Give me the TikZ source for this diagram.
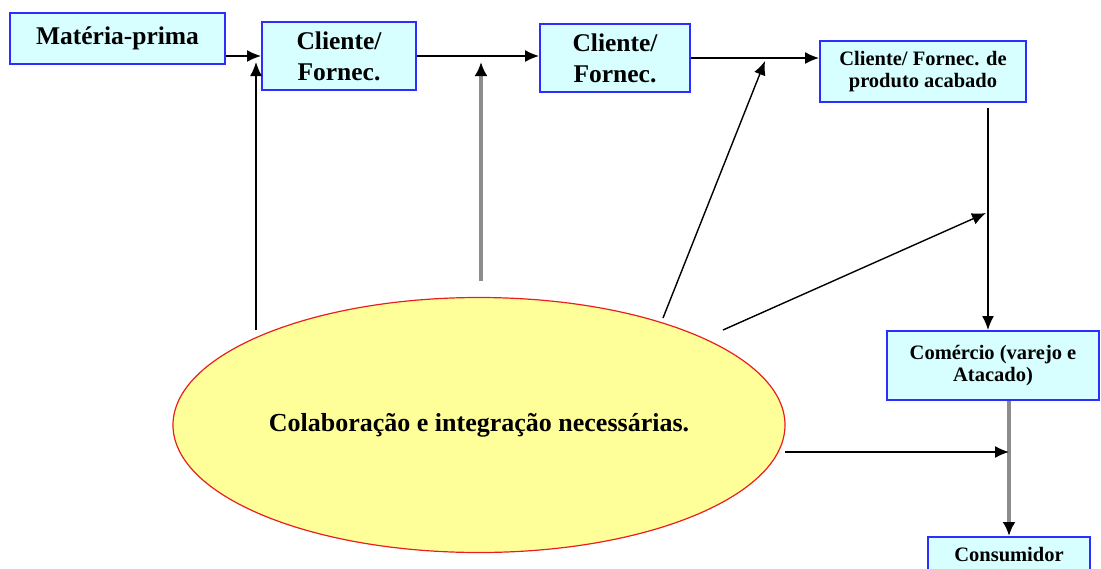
\documentclass[tikz,border=0pt]{standalone}
\usepackage{fontspec}
\setmainfont{Liberation Serif}
\usetikzlibrary{shapes.geometric,arrows.meta,positioning}
\definecolor{boxfill}{RGB}{215,255,255}
\definecolor{boxline}{RGB}{45,45,255}
\definecolor{cloudfill}{RGB}{255,255,153}
\definecolor{cloudline}{RGB}{235,30,30}
\tikzstyle{block} = [rectangle, draw=boxline, line width=2pt, fill=boxfill,
    align=center, inner sep=0pt, font=\fontsize{25.5}{31}\selectfont\bfseries]
\tikzstyle{smallblock} = [block, font=\fontsize{20.5}{22}\selectfont\bfseries]
\tikzstyle{cloud} = [draw=cloudline, ellipse, fill=cloudfill, line width=1.2pt,
    inner sep=0pt, font=\fontsize{26}{30}\selectfont\bfseries]
\tikzstyle{line} = [draw, line width=1.4pt, -{Latex[length=14pt,width=12pt]}]
\tikzstyle{grayline} = [draw=gray!90, line width=4pt, -{Latex[length=14pt,width=13pt,black]}]

\begin{document}
\begin{tikzpicture}[x=1pt, y=-1pt]
    \useasboundingbox (0,0) rectangle (1101,568);
    \clip (0,0) rectangle (1101,568);
    % Nodes
    \node [block, minimum width=215pt, minimum height=51pt] (mp) at (117.5,38.5) {Matéria-prima};
    \node [block, minimum width=154pt, minimum height=68pt] (cf1) at (339,56) {Cliente/\\Fornec.};
    \node [block, minimum width=150pt, minimum height=68pt] (cf2) at (615,58) {Cliente/\\Fornec.};
    \node [smallblock, minimum width=206pt, minimum height=61pt] (cf3) at (923,71.5) {Cliente/ Fornec. de\\produto acabado};
    \node [smallblock, minimum width=212pt, minimum height=69pt] (com) at (993,365.5) {Comércio (varejo e\\Atacado)};
    \node [smallblock, minimum width=162pt, minimum height=36pt] (cons) at (1009,555) {Consumidor};
    \node [cloud, minimum width=612pt, minimum height=255pt] (collab) at (479,425) {Colaboração e integração necessárias.};
    % Free ends
    \coordinate (s1) at (256,330);
    \coordinate (t1) at (256,62);
    \coordinate (s2) at (481,281);
    \coordinate (t2) at (481,62);
    \coordinate (s3) at (663,318);
    \coordinate (t3) at (765,61);
    \coordinate (s4) at (988,108);
    \coordinate (s5) at (723,330);
    \coordinate (t5) at (986,213);
    \coordinate (s7) at (785,452);
    \coordinate (t7) at (1009,452);
    % Paths
    \path [line] (mp.east |- cf1.west) -- (cf1.west);
    \path [line] (cf1.east) -- (cf1.east -| cf2.west);
    \path [line] (cf2.east) -- (cf2.east -| cf3.west);
    \path [line] (s4) -- (s4 |- com.north);
    \path [grayline] (com.south -| cons.north) -- (cons.north);
    \path [line] (s1) -- (t1);
    \path [grayline] (s2) -- (t2);
    \path [line] (s3) -- (t3);
    \path [line] (s5) -- (t5);
    \path [line] (s7) -- (t7);
\end{tikzpicture}
\end{document}
